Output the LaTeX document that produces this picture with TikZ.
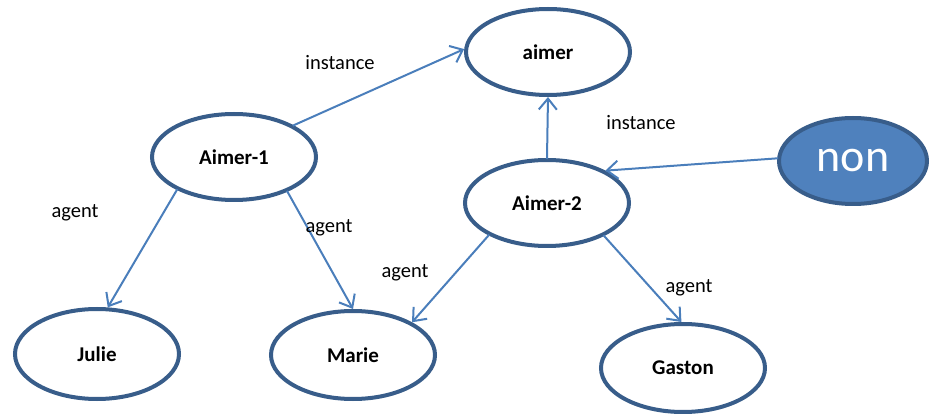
\documentclass[tikz,border=0pt]{standalone}
\usepackage{fontspec}
\setmainfont{Carlito}
\usetikzlibrary{shapes.geometric,arrows.meta}
\definecolor{edgeblue}{HTML}{4A7EBB}
\definecolor{borderblue}{HTML}{385D8A}
\definecolor{fillblue}{HTML}{4F81BD}
\tikzset{
  concept/.style={ellipse,draw=borderblue,line width=4pt,fill=white,minimum width=164pt,minimum height=86pt,inner sep=0pt,font=\fontsize{21}{24}\selectfont\bfseries},
  link/.style={draw=edgeblue,line width=2pt,-{Straight Barb[length=11pt,width=18pt,line width=2pt]},shorten <=-1pt},
  lbl/.style={font=\fontsize{20.5}{24}\selectfont,inner sep=0pt}
}
\begin{document}
\begin{tikzpicture}[x=1pt,y=-1pt]
\useasboundingbox (0,0) rectangle (930,414);
\node[concept] (aimer) at (548,52) {aimer};
\node[concept] (aimer1) at (234,157) {Aimer-1};
\node[concept] (aimer2) at (547,203) {Aimer-2};
\node[concept,fill=fillblue,minimum width=148pt,font=\fontsize{46}{50}\selectfont,text=white] (non) at (853,161) {non};
\node[concept,minimum height=90pt] (julie) at (97,354) {Julie};
\node[concept,minimum height=88pt] (marie) at (353,355) {Marie};
\node[concept,minimum height=88pt] (gaston) at (683,368) {Gaston};
\draw[link] (aimer1.28) -- (aimer.178);
\draw[link] (aimer2.north) -- (aimer.south);
\draw[link] (non.178) -- (aimer2.29);
\draw[link] (aimer1.210) -- (julie.77);
\draw[link] (aimer1.327) -- (marie.90);
\draw[link] (aimer2.209) -- (marie.29);
\draw[link] (aimer2.330) -- (gaston.92);
\node[lbl] (l1) at (340,63) {instance};
\node[lbl] (l2) at (641,123) {instance};
\node[lbl] (l3) at (75,213) {agent};
\node[lbl] (l4) at (329,228) {agent};
\node[lbl] (l5) at (405,273) {agent};
\node[lbl] (l6) at (689,288) {agent};
\end{tikzpicture}
\end{document}
